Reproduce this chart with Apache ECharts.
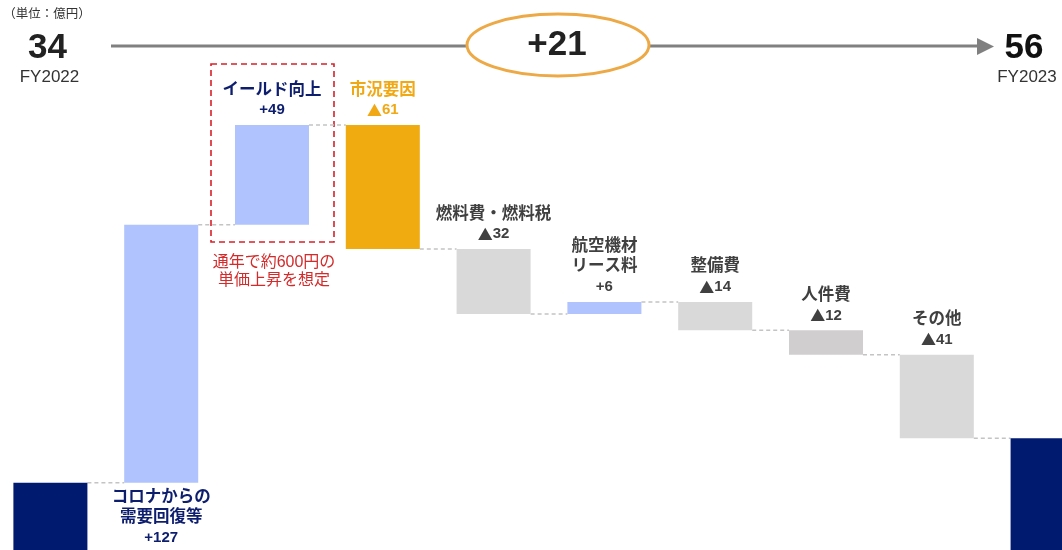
<!DOCTYPE html>
<html><head><meta charset="utf-8">
<script src="https://cdn.jsdelivr.net/npm/echarts@6/dist/echarts.min.js"></script>
<style>html,body{margin:0;padding:0;background:#fff}#c{width:1062px;height:550px}</style>
</head><body><div id="c"></div>
<script>
// ---- data ----
const categories = ['FY2022','コロナからの\n需要回復等','イールド向上','市況要因','燃料費・燃料税','航空機材\nリース料','整備費','人件費','その他','FY2023'];
const changes = [34, 127, 49, -61, -32, 6, -14, -12, -41, 56];
const isTotal = [true, false, false, false, false, false, false, false, false, true];
const valueLabels = ['', '+127', '+49', '▲61', '▲32', '+6', '▲14', '▲12', '▲41', ''];
const startValue = '34', endValue = '56', netChange = '+21';
const startLabel = 'FY2022', endLabel = 'FY2023';
const unitLabel = '（単位：億円）';
const noteText = '通年で約600円の\n単価上昇を想定';

// ---- styles ----
const FONT = '"Liberation Sans", "Noto Sans CJK JP", sans-serif';
const CJK = '"Noto Sans CJK JP", sans-serif';
const barColors = ['#001A70','#B1C3FE','#B1C3FE','#F0AB10','#D9D9D9','#B1C3FE','#D9D9D9','#D0CECE','#D9D9D9','#001A70'];
const labelColors = [null,'#0E1E6E','#0E1E6E','#F0A814','#404040','#404040','#404040','#404040','#404040',null];
const labelBelow = [false,true,false,false,false,false,false,false,false,false];

// ---- waterfall geometry from data ----
let running = 0;
const base = [], height = [], level = [];
changes.forEach((d, i) => {
  if (isTotal[i]) { base.push(0); height.push(d); running = d; }
  else { const to = running + d; base.push(Math.min(running, to)); height.push(Math.abs(d)); running = to; }
  level.push(running);
});

function valueRich(s) {
  if (s.charAt(0) === '▲') return '{t|▲}{v|' + s.slice(1) + '}';
  return '{v|' + s + '}';
}

const valueData = height.map((h, i) => {
  const item = { value: h, itemStyle: { color: barColors[i] } };
  if (isTotal[i]) { item.label = { show: false }; return item; }
  const c = labelColors[i];
  item.label = {
    show: true,
    position: labelBelow[i] ? 'bottom' : 'top',
    distance: 5,
    formatter: () => {
      const lines = categories[i].split('\n').map(s => '{n|' + s + '}');
      return lines.join('\n') + '\n' + valueRich(valueLabels[i]);
    },
    rich: {
      n: { fontSize: 16.5, fontWeight: 'bold', lineHeight: 20, color: c, fontFamily: FONT },
      v: { fontSize: 15, fontWeight: 'bold', lineHeight: 20, color: c, fontFamily: FONT },
      t: { fontSize: 15, fontWeight: 'bold', lineHeight: 20, color: c, fontFamily: CJK }
    }
  };
  return item;
});

const connectorData = level.slice(0, -1).map((v, i) => [i, v]);
const BAR_RATIO = 0.668;

const chart = echarts.init(document.getElementById('c'), null, { renderer: 'canvas' });
chart.setOption({
  animation: false,
  backgroundColor: '#fff',
  textStyle: { fontFamily: FONT },
  grid: { left: -5, top: 3, width: 1108, height: 549, outerBoundsMode: 'none' },
  xAxis: { type: 'category', data: categories, show: false },
  yAxis: { type: 'value', min: 0, max: 270, show: false },
  series: [
    { type: 'bar', stack: 'w', data: base, barWidth: (BAR_RATIO * 100) + '%', itemStyle: { color: 'transparent' }, silent: true },
    { type: 'bar', stack: 'w', data: valueData, barWidth: (BAR_RATIO * 100) + '%' },
    {
      type: 'custom', data: connectorData, silent: true, z: 1,
      renderItem: (params, api) => {
        const i = api.value(0), v = api.value(1);
        const p1 = api.coord([i, v]), p2 = api.coord([i + 1, v]);
        const bw = api.size([1, 0])[0] * BAR_RATIO;
        return { type: 'line', shape: { x1: p1[0] + bw / 2, y1: p1[1], x2: p2[0] - bw / 2, y2: p2[1] },
          style: { stroke: '#C4C4C4', lineWidth: 1.5, lineDash: [4, 3] } };
      }
    }
  ],
  graphic: [
    { type: 'text', x: 47, y: 15, style: { text: unitLabel, fontSize: 12.5, fill: '#333', textAlign: 'center', textVerticalAlign: 'middle', fontFamily: FONT } },
    { type: 'text', x: 47.5, y: 48.5, style: { text: startValue, fontSize: 35, fontWeight: 'bold', fill: '#222', textAlign: 'center', textVerticalAlign: 'middle', fontFamily: FONT } },
    { type: 'text', x: 49.5, y: 77, style: { text: startLabel, fontSize: 17, fill: '#333', textAlign: 'center', textVerticalAlign: 'middle', fontFamily: FONT } },
    { type: 'line', shape: { x1: 111, y1: 46, x2: 980, y2: 46 }, style: { stroke: '#808080', lineWidth: 3 } },
    { type: 'polygon', shape: { points: [[977, 38], [994, 46.5], [977, 55]] }, style: { fill: '#808080' } },
    { type: 'ellipse', shape: { cx: 558, cy: 45, rx: 91, ry: 31 }, style: { fill: '#fff', stroke: '#EDA945', lineWidth: 3 } },
    { type: 'text', x: 557, y: 45.5, style: { text: netChange, fontSize: 35, fontWeight: 'bold', fill: '#222', textAlign: 'center', textVerticalAlign: 'middle', fontFamily: FONT } },
    { type: 'text', x: 1024, y: 48.5, style: { text: endValue, fontSize: 35, fontWeight: 'bold', fill: '#111', textAlign: 'center', textVerticalAlign: 'middle', fontFamily: FONT } },
    { type: 'text', x: 1027, y: 77, style: { text: endLabel, fontSize: 17, fill: '#333', textAlign: 'center', textVerticalAlign: 'middle', fontFamily: FONT } },
    { type: 'rect', shape: { x: 211, y: 64, width: 123, height: 178 }, style: { fill: 'none', stroke: '#D9202A', lineWidth: 1.6, lineDash: [6, 4] } },
    { type: 'text', x: 274, y: 271.5, style: { text: noteText, fontSize: 16, lineHeight: 18, fill: '#D42A2A', textAlign: 'center', textVerticalAlign: 'middle', fontFamily: FONT } }
  ]
});
</script></body></html>
